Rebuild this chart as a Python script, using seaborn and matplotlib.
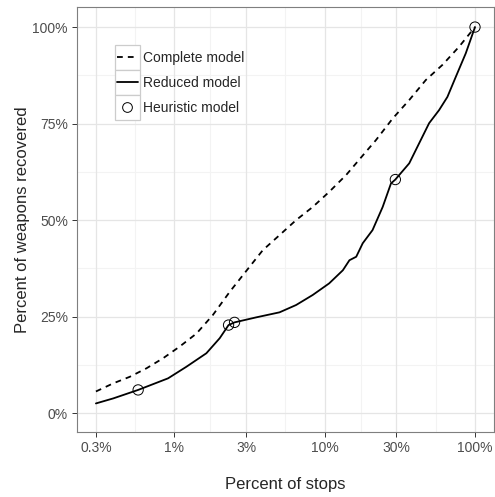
import numpy as np
import pandas as pd
import matplotlib
matplotlib.use('Agg')
import matplotlib.pyplot as plt
import seaborn as sns
from matplotlib.lines import Line2D
from matplotlib.patches import Rectangle

# Values (percent of stops, percent of weapons recovered)
complete_x = [0.3, 0.391, 0.504, 0.651, 0.839, 1.08, 1.40, 1.80, 2.33, 3.16, 3.87, 5.00,
              6.45, 8.32, 10.7, 13.9, 18.8, 21.9, 28.3, 36.5, 47.1, 60.7, 78.3, 100]
complete_y = [5.6, 7.7, 9.4, 11.6, 14.2, 17.2, 20.6, 25.4, 31.4, 37.9, 42.2, 46.1,
              50.0, 53.4, 57.3, 61.7, 67.7, 70.7, 76.3, 81.1, 86.3, 90.2, 94.9, 100]

reduced_x = [0.3, 0.391, 0.573, 0.906, 1.20, 1.63, 2.00, 2.29, 2.51, 3.50, 5.00, 6.45,
             8.32, 10.7, 13.2, 14.6, 16.2, 17.9, 20.8, 24.3, 27.6, 29.5, 36.5, 42.5,
             49.5, 57.7, 65.5, 74.5, 86.8, 100]
reduced_y = [2.5, 3.8, 6.0, 9.0, 12.0, 15.5, 19.4, 22.8, 23.5, 24.8, 26.1, 28.0,
             30.6, 33.6, 37.0, 39.6, 40.5, 44.0, 47.4, 53.4, 59.5, 60.5, 64.7, 69.9,
             75.1, 78.5, 81.9, 87.1, 93.2, 100]

heuristic_x = [0.573, 2.29, 2.51, 29.5, 100]
heuristic_y = [6.0, 22.8, 23.5, 60.5, 100]

x_ticks = [0.3, 1, 3, 10, 30, 100]
x_labels = ['0.3%', '1%', '3%', '10%', '30%', '100%']
y_ticks = [0, 25, 50, 75, 100]
y_labels = ['0%', '25%', '50%', '75%', '100%']

complete = pd.DataFrame({'stops': complete_x, 'recovered': complete_y})
reduced = pd.DataFrame({'stops': reduced_x, 'recovered': reduced_y})
heuristic = pd.DataFrame({'stops': heuristic_x, 'recovered': heuristic_y})

sns.set_style('white')
plt.rcParams['font.family'] = ['Liberation Sans', 'DejaVu Sans']

fig, ax = plt.subplots(figsize=(4.95, 4.97), dpi=100)
fig.subplots_adjust(left=77/495, right=494/495, bottom=1-432/497, top=1-7/497)

ax.set_xscale('log')

# grid like ggplot theme_bw
minor_x = [np.sqrt(x_ticks[i] * x_ticks[i + 1]) for i in range(len(x_ticks) - 1)]
minor_y = [12.5, 37.5, 62.5, 87.5]
for v in minor_x:
    ax.axvline(v, color='#F3F3F3', lw=0.8, zorder=0)
for v in minor_y:
    ax.axhline(v, color='#F3F3F3', lw=0.8, zorder=0)
for v in x_ticks:
    ax.axvline(v, color='#E5E5E5', lw=0.9, zorder=0)
for v in y_ticks:
    ax.axhline(v, color='#E5E5E5', lw=0.9, zorder=0)

dash = (0, (3.2, 2.8))
sns.lineplot(data=complete, x='stops', y='recovered', ax=ax, color='black', lw=1.3,
             sort=False, estimator=None, linestyle=dash)
sns.lineplot(data=reduced, x='stops', y='recovered', ax=ax, color='black', lw=1.3,
             sort=False, estimator=None)
sns.scatterplot(data=heuristic, x='stops', y='recovered', ax=ax, s=55,
                facecolor='none', edgecolor='black', linewidth=0.7, zorder=5)

ax.set_xlim(0.2245, 133.8)
ax.set_ylim(-4.9, 105.2)
ax.set_xticks(x_ticks)
ax.set_xticklabels(x_labels)
ax.set_xticks([], minor=True)
ax.set_yticks(y_ticks)
ax.set_yticklabels(y_labels)

ax.tick_params(axis='both', which='major', direction='out', length=3.5, width=0.7,
               color='#333333', labelcolor='#4D4D4D', labelsize=10, pad=3,
               bottom=True, left=True)
for s in ax.spines.values():
    s.set_color('#7F7F7F')
    s.set_linewidth(0.8)

ax.set_xlabel('Percent of stops', fontsize=12, labelpad=16)
ax.set_ylabel('Percent of weapons recovered', fontsize=12, labelpad=2)

# legend with ggplot-like boxed keys
handles = [
    Line2D([], [], color='black', lw=1.3, linestyle=dash),
    Line2D([], [], color='black', lw=1.3),
    Line2D([], [], color='black', lw=0, marker='o', markerfacecolor='none',
           markeredgewidth=0.7, markersize=7),
]
labels = ['Complete model', 'Reduced model', 'Heuristic model']
for i in range(3):
    ax.add_patch(Rectangle((115/495, 1-(70+25*i)/497), 25/495, 25/497,
                           transform=fig.transFigure, facecolor='white',
                           edgecolor='#CCCCCC', lw=0.9, zorder=6, clip_on=False))
leg = ax.legend(handles, labels, loc='upper left', bbox_to_anchor=(117/495, 1-51/497),
                bbox_transform=fig.transFigure, frameon=False, borderpad=0,
                borderaxespad=0, handlelength=1.5, handletextpad=0.35,
                labelspacing=0.8, fontsize=10)
leg.set_zorder(10)

fig.savefig('out.png', dpi=100)
